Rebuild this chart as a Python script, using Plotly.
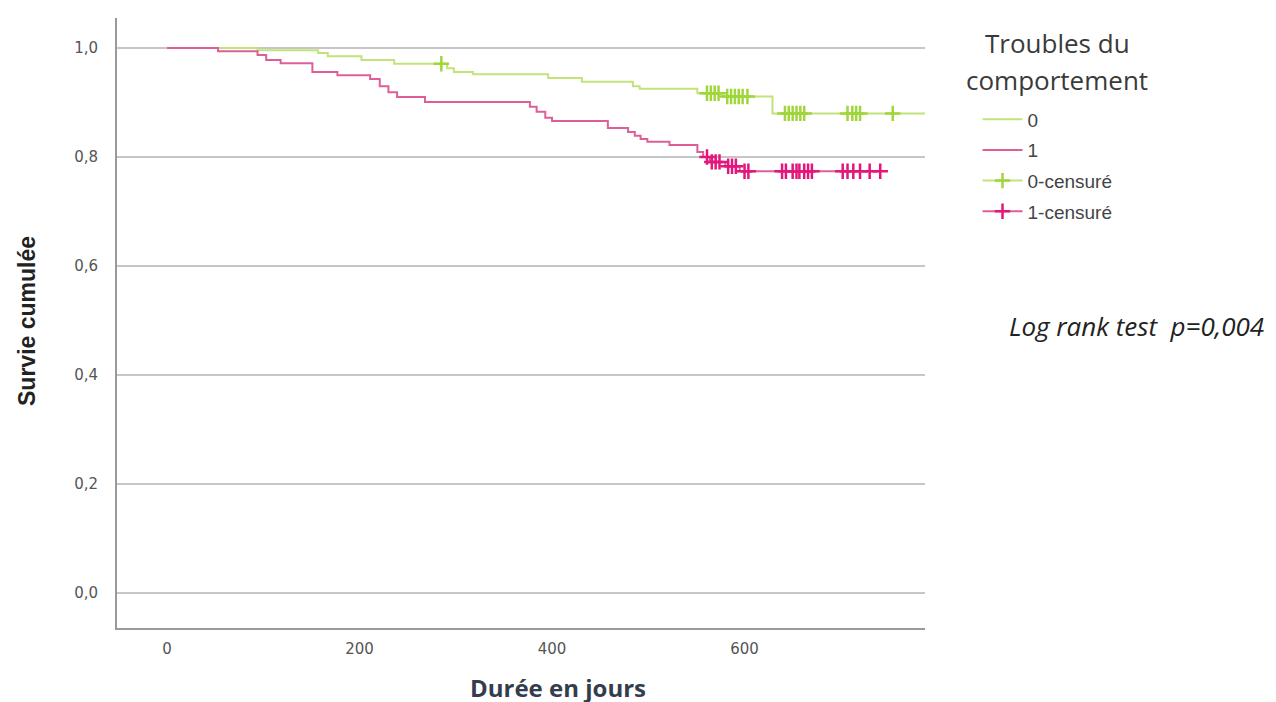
import plotly.graph_objects as go
import numpy as np

# ---- data ----
g0_times = [0, 94, 157, 167, 202, 236, 291, 298, 318, 396, 431, 484, 491, 551, 577, 629]
g0_surv = [1.0, 0.996, 0.991, 0.985, 0.978, 0.971, 0.963, 0.956, 0.952, 0.945, 0.938, 0.930, 0.925, 0.917, 0.911, 0.880]
g0_end = 788
g0_censor = [285, 561, 565, 569, 573, 582, 586, 590, 594, 598, 603,
             642, 646, 650, 654, 658, 662, 707, 712, 716, 720, 754]

g1_times = [0, 53, 94, 103, 118, 151, 177, 211, 221, 230, 239, 268, 377, 384, 393, 400,
            458, 479, 486, 492, 499, 522, 551, 557, 564, 580, 595]
g1_surv = [1.0, 0.994, 0.987, 0.978, 0.972, 0.956, 0.950, 0.943, 0.930, 0.919, 0.910, 0.901,
           0.892, 0.883, 0.872, 0.866, 0.853, 0.846, 0.839, 0.833, 0.828, 0.822, 0.809, 0.800,
           0.791, 0.783, 0.774]
g1_end = 741
g1_censor = [561, 566, 570, 574, 583, 587, 591, 600, 604, 639, 643, 650, 654, 657, 662,
             666, 670, 702, 707, 713, 720, 730, 741]

x_ticks = [0, 200, 400, 600]
y_ticks = [0.0, 0.2, 0.4, 0.6, 0.8, 1.0]
y_ticklabels = ["0,0", "0,2", "0,4", "0,6", "0,8", "1,0"]

legend_names = ["0", "1", "0-censuré", "1-censuré"]

GREEN_LINE = "#c2e37a"
GREEN_MARK = "#a0d53c"
PINK_LINE = "#de5f98"
PINK_MARK = "#e3177b"

# plot-area geometry in the page (page body has an 8px margin)
PL, PT, PW, PH = 117, 18, 808, 610


def px(sx):
    return (sx - PL) / PW


def py(sy):
    return (PT + PH - sy) / PH


def level_at(times, surv, t):
    idx = np.searchsorted(times, t, side="right") - 1
    return surv[idx]


def isolated(xs, ys):
    # separate each censor point so no connecting line is drawn,
    # while the legend still shows the "—+—" symbol
    ox, oy = [], []
    for a, b in zip(xs, ys):
        ox += [a, None]
        oy += [b, None]
    return ox, oy


fig = go.Figure()

fig.add_trace(go.Scatter(
    x=g0_times + [g0_end], y=g0_surv + [g0_surv[-1]], mode="lines",
    line=dict(shape="hv", color=GREEN_LINE, width=2), name=legend_names[0],
    legendgroup="a"))
fig.add_trace(go.Scatter(
    x=g1_times + [g1_end], y=g1_surv + [g1_surv[-1]], mode="lines",
    line=dict(shape="hv", color=PINK_LINE, width=2), name=legend_names[1],
    legendgroup="b"))

cx0, cy0 = isolated(g0_censor, [level_at(g0_times, g0_surv, t) for t in g0_censor])
cx1, cy1 = isolated(g1_censor, [level_at(g1_times, g1_surv, t) for t in g1_censor])

fig.add_trace(go.Scatter(
    x=cx0, y=cy0, mode="lines+markers", connectgaps=False,
    line=dict(color=GREEN_LINE, width=2),
    marker=dict(symbol="cross-thin-open", size=11, color=GREEN_MARK,
                line=dict(color=GREEN_MARK, width=2.5)),
    name=legend_names[2], legendgroup="c"))
fig.add_trace(go.Scatter(
    x=cx1, y=cy1, mode="lines+markers", connectgaps=False,
    line=dict(color=PINK_LINE, width=2),
    marker=dict(symbol="cross-thin-open", size=11, color=PINK_MARK,
                line=dict(color=PINK_MARK, width=2.5)),
    name=legend_names[3], legendgroup="d"))

fig.update_layout(
    width=1276, height=702,
    margin=dict(l=PL - 8, r=1276 - (PL - 8) - PW, t=PT - 8, b=702 - (PT - 8) - PH),
    plot_bgcolor="white", paper_bgcolor="white",
    showlegend=True,
    legend=dict(x=1.065, y=0.865, xanchor="left", yanchor="top",
                font=dict(family="Liberation Sans, Arial", size=19, color="#444"),
                tracegroupgap=3, itemwidth=40, bgcolor="rgba(0,0,0,0)"),
    xaxis=dict(range=[-52, 787.5], tickvals=x_ticks, ticktext=[str(v) for v in x_ticks],
               showgrid=False, zeroline=False, showline=True, linecolor="#9a9a9a", linewidth=2,
               ticks="", ticklabelstandoff=6,
               tickfont=dict(family="DejaVu Sans", size=15, color="#555")),
    yaxis=dict(range=[-0.064, 1.055], tickvals=y_ticks, ticktext=y_ticklabels,
               showgrid=True, gridcolor="#c6c6c6", gridwidth=2, zeroline=False,
               showline=True, linecolor="#9a9a9a", linewidth=2, ticks="",
               ticklabelstandoff=14,
               tickfont=dict(family="DejaVu Sans", size=15, color="#555")),
)

fig.add_annotation(text="<b>Durée en jours</b>", xref="paper", yref="paper",
                   x=px(558), y=py(687), xanchor="center", yanchor="middle",
                   showarrow=False, font=dict(family="Open Sans", size=24, color="#333d4d"))
fig.add_annotation(text="<b>Survie cumulée</b>", xref="paper", yref="paper",
                   x=px(27), y=py(321), xanchor="center", yanchor="middle", textangle=-90,
                   showarrow=False, font=dict(family="Liberation Sans, Arial", size=23, color="#222"))
fig.add_annotation(text="Troubles du", xref="paper", yref="paper",
                   x=px(1057), y=py(43), xanchor="center", yanchor="middle",
                   showarrow=False, font=dict(family="Open Sans", size=26, color="#3a3a3a"))
fig.add_annotation(text="comportement", xref="paper", yref="paper",
                   x=px(1057), y=py(80), xanchor="center", yanchor="middle",
                   showarrow=False, font=dict(family="Open Sans", size=26, color="#3a3a3a"))
fig.add_annotation(text="<i>Log rank test  p=0,004</i>", xref="paper", yref="paper",
                   x=px(1136), y=py(326), xanchor="center", yanchor="middle",
                   showarrow=False, font=dict(family="Open Sans", size=26, color="#222"))

fig.write_html("out.html")
